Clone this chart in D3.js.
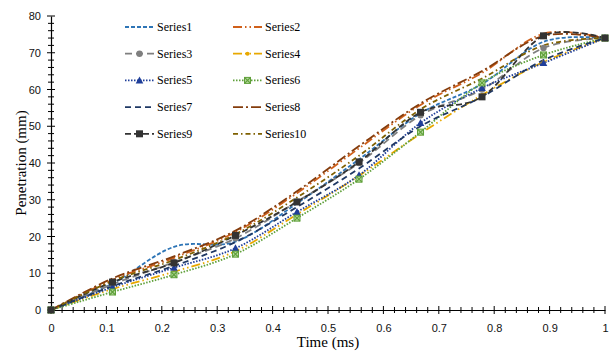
<!DOCTYPE html>
<html>
<head>
<meta charset="utf-8">
<script src="https://cdn.jsdelivr.net/npm/d3@7"></script>
<style>
   body { margin: 0; background: #fff; }
</style>
</head>
<body>
<svg id="chart" width="609" height="354"></svg>
<script>
// x positions of the measurements (ms)
const times = [0, 0.111, 0.222, 0.333, 0.444, 0.556, 0.667, 0.778, 0.889, 1];

// penetration (mm) per series
const series1  = [0, 7.2, 17.2, 18.6, 29.0, 41.0, 53.5, 61.5, 73.0, 74];
const series2  = [0, 8.2, 14.2, 21.2, 31.8, 44.0, 55.8, 64.5, 75.2, 74];
const series3  = [0, 7.0, 13.0, 19.5, 29.5, 40.0, 53.0, 60.0, 71.3, 74];
const series4  = [0, 5.7, 10.4, 16.0, 26.0, 36.5, 48.0, 58.5, 67.5, 74];
const series5  = [0, 6.2, 11.5, 16.8, 26.7, 36.7, 50.9, 60.4, 67.2, 74];
const series6  = [0, 4.9, 9.6, 15.2, 25.0, 35.6, 48.4, 61.8, 69.4, 74];
const series7  = [0, 6.5, 12.0, 18.5, 28.0, 38.5, 50.0, 58.0, 68.0, 74];
const series8  = [0, 8.6, 14.6, 21.6, 32.3, 44.6, 56.2, 65.0, 74.6, 74];
const series9  = [0, 7.6, 12.8, 20.3, 29.4, 40.3, 53.8, 58.0, 74.6, 74];
const series10 = [0, 7.9, 13.6, 20.6, 30.6, 42.0, 54.6, 63.0, 72.0, 74];

const seriesNames = ["Series1", "Series2", "Series3", "Series4", "Series5",
                     "Series6", "Series7", "Series8", "Series9", "Series10"];
const seriesValues = [series1, series2, series3, series4, series5,
                      series6, series7, series8, series9, series10];

// tick labels
const xTicks = [0, 0.1, 0.2, 0.3, 0.4, 0.5, 0.6, 0.7, 0.8, 0.9, 1];
const yTicks = [0, 10, 20, 30, 40, 50, 60, 70, 80];

// look of each series (Excel style)
const styles = [
   {color: "#2e75b6", dash: "4,2",             marker: null},
   {color: "#d0601a", dash: "9,3,1.5,3,1.5,3", marker: null},
   {color: "#7f7f7f", dash: "7,4",             marker: "circle"},
   {color: "#e8a800", dash: "9,3,1.5,3,1.5,3", marker: "dot"},
   {color: "#1f3e99", dash: "1.5,1.5",         marker: "triangle"},
   {color: "#5fa03a", dash: "1.5,1.5",         marker: "cross"},
   {color: "#1f3864", dash: "6,4",             marker: null},
   {color: "#843c0c", dash: "10,3,2,3",        marker: null},
   {color: "#333333", dash: "6,3",             marker: "square"},
   {color: "#7f6000", dash: "5,3,1.5,3",       marker: null}
];

const margin = {top: 16, right: 4, bottom: 44, left: 51};
const width = 609, height = 354;

let svg = d3.select("#chart");

let x = d3.scaleLinear()
   .domain([0, 1])
   .range([margin.left, width - margin.right]);
let y = d3.scaleLinear()
   .domain([0, 80])
   .range([height - margin.bottom, margin.top]);

const tickFont = "'Liberation Sans', Arial, sans-serif";
const serif = "'Liberation Serif', 'Times New Roman', serif";

// Axes (line + crossing ticks drawn by hand, labels by d3 axis)
let xAxis = d3.axisBottom(x).tickValues(xTicks).tickSize(0).tickPadding(14)
   .tickFormat(d => (d === 0 || d === 1) ? String(d) : d3.format(".1f")(d));
let yAxis = d3.axisLeft(y).tickValues(yTicks).tickSize(0).tickPadding(10);

let gx = svg.append("g")
   .attr("transform", "translate(0," + y(0) + ")")
   .call(xAxis);
let gy = svg.append("g")
   .attr("transform", "translate(" + x(0) + ",0)")
   .call(yAxis);
[gx, gy].forEach(g => {
   g.select(".domain").attr("stroke", "#000").attr("stroke-width", 1.2);
   g.selectAll("text").attr("font-family", tickFont).attr("font-size", 11).attr("fill", "#111");
});

// minor / major ticks crossing the axis
let ticks = svg.append("g").attr("stroke", "#000").attr("stroke-width", 1);
d3.range(0, 1.0001, 0.02).forEach(v => {
   let major = Math.abs(v * 10 - Math.round(v * 10)) < 1e-6;
   let s = major ? 4 : 3;
   ticks.append("line")
      .attr("x1", x(v)).attr("x2", x(v))
      .attr("y1", y(0) - s).attr("y2", y(0) + s);
});
d3.range(0, 80.001, 2).forEach(v => {
   let major = v % 10 === 0;
   let s = major ? 4 : 3;
   ticks.append("line")
      .attr("y1", y(v)).attr("y2", y(v))
      .attr("x1", x(0) - s).attr("x2", x(0) + s);
});

// Axis titles
svg.append("text")
   .attr("x", (x(0) + x(1)) / 2)
   .attr("y", 347)
   .attr("text-anchor", "middle")
   .attr("font-family", serif)
   .attr("font-size", 15)
   .text("Time (ms)");

svg.append("text")
   .attr("transform", "translate(26," + ((y(0) + y(80)) / 2) + ") rotate(-90)")
   .attr("text-anchor", "middle")
   .attr("font-family", serif)
   .attr("font-size", 15)
   .text("Penetration (mm)");

// Lines
let line = d3.line()
   .x((d, i) => x(times[i]))
   .y(d => y(d))
   .curve(d3.curveCardinal.tension(0));

let plot = svg.append("g");
seriesValues.forEach((vals, k) => {
   plot.append("path")
      .datum(vals)
      .attr("d", line)
      .attr("fill", "none")
      .attr("stroke", styles[k].color)
      .attr("stroke-width", 1.8)
      .attr("stroke-dasharray", styles[k].dash);
});

function drawMarker(g, type, color, cx, cy) {
   if (type === "circle") {
      g.append("circle").attr("cx", cx).attr("cy", cy).attr("r", 3.2).attr("fill", color);
   } else if (type === "dot") {
      g.append("circle").attr("cx", cx).attr("cy", cy).attr("r", 2).attr("fill", color);
   } else if (type === "triangle") {
      g.append("path")
         .attr("d", "M" + cx + "," + (cy - 4) + "L" + (cx + 3.8) + "," + (cy + 3) + "L" + (cx - 3.8) + "," + (cy + 3) + "Z")
         .attr("fill", color);
   } else if (type === "cross") {
      g.append("rect").attr("x", cx - 3).attr("y", cy - 3).attr("width", 6).attr("height", 6)
         .attr("fill", "#b5d99c").attr("stroke", color).attr("stroke-width", 1);
      g.append("path")
         .attr("d", "M" + (cx - 3) + "," + (cy - 3) + "L" + (cx + 3) + "," + (cy + 3) + "M" + (cx + 3) + "," + (cy - 3) + "L" + (cx - 3) + "," + (cy + 3))
         .attr("stroke", color).attr("stroke-width", 1.2);
   } else if (type === "square") {
      g.append("rect").attr("x", cx - 3.5).attr("y", cy - 3.5).attr("width", 7).attr("height", 7)
         .attr("fill", color);
   }
}

// Markers
let marks = svg.append("g");
seriesValues.forEach((vals, k) => {
   if (!styles[k].marker) return;
   vals.forEach((v, i) => drawMarker(marks, styles[k].marker, styles[k].color, x(times[i]), y(v)));
});

// Legend, two columns
let legend = svg.append("g");
seriesNames.forEach((name, k) => {
   let col = k % 2, row = Math.floor(k / 2);
   let lx = col === 0 ? 125 : 233;
   let ly = 27 + row * 26.7;
   legend.append("line")
      .attr("x1", lx).attr("x2", lx + 29)
      .attr("y1", ly).attr("y2", ly)
      .attr("stroke", styles[k].color)
      .attr("stroke-width", 1.8)
      .attr("stroke-dasharray", styles[k].dash);
   if (styles[k].marker) drawMarker(legend, styles[k].marker, styles[k].color, lx + 14.5, ly);
   legend.append("text")
      .attr("x", lx + 32)
      .attr("y", ly + 4)
      .attr("font-family", serif)
      .attr("font-size", 12)
      .text(name);
});
</script>
</body>
</html>
